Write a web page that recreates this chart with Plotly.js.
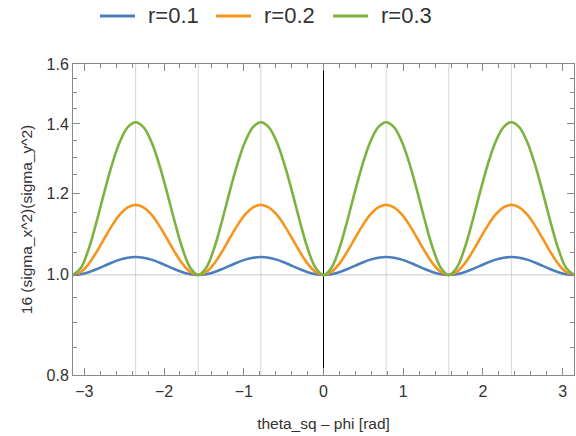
<!DOCTYPE html>
<html>
<head>
<meta charset="utf-8">
<script src="https://cdn.plot.ly/plotly-3.0.1.min.js"></script>
<style>html,body{margin:0;padding:0;background:#fff}#chart{width:576px;height:436px}</style>
</head>
<body>
<div id="chart"></div>
<script>
var seriesNames = ['r=0.1', 'r=0.2', 'r=0.3'];
var seriesColors = ['#4A7FBE', '#F7941D', '#7DB23F'];

var xVals = [
 -3.1416,-3.0434,-2.9452,-2.8471,-2.7489,-2.6507,-2.5525,-2.4544,
 -2.3562,-2.2580,-2.1598,-2.0617,-1.9635,-1.8653,-1.7671,-1.6690,
 -1.5708,-1.4726,-1.3744,-1.2763,-1.1781,-1.0799,-0.9817,-0.8836,
 -0.7854,-0.6872,-0.5890,-0.4909,-0.3927,-0.2945,-0.1963,-0.0982,
 0.0000,0.0982,0.1963,0.2945,0.3927,0.4909,0.5890,0.6872,
 0.7854,0.8836,0.9817,1.0799,1.1781,1.2763,1.3744,1.4726,
 1.5708,1.6690,1.7671,1.8653,1.9635,2.0617,2.1598,2.2580,
 2.3562,2.4544,2.5525,2.6507,2.7489,2.8471,2.9452,3.0434,
 3.1416];

var r01 = [
 1.0000,1.0015,1.0059,1.0125,1.0203,1.0280,1.0346,1.0390,
 1.0405,1.0390,1.0346,1.0280,1.0203,1.0125,1.0059,1.0015,
 1.0000,1.0015,1.0059,1.0125,1.0203,1.0280,1.0346,1.0390,
 1.0405,1.0390,1.0346,1.0280,1.0203,1.0125,1.0059,1.0015,
 1.0000,1.0015,1.0059,1.0125,1.0203,1.0280,1.0346,1.0390,
 1.0405,1.0390,1.0346,1.0280,1.0203,1.0125,1.0059,1.0015,
 1.0000,1.0015,1.0059,1.0125,1.0203,1.0280,1.0346,1.0390,
 1.0405,1.0390,1.0346,1.0280,1.0203,1.0125,1.0059,1.0015,
 1.0000];

var r02 = [
 1.0000,1.0064,1.0247,1.0521,1.0844,1.1167,1.1441,1.1624,
 1.1688,1.1624,1.1441,1.1167,1.0844,1.0521,1.0247,1.0064,
 1.0000,1.0064,1.0247,1.0521,1.0844,1.1167,1.1441,1.1624,
 1.1688,1.1624,1.1441,1.1167,1.0844,1.0521,1.0247,1.0064,
 1.0000,1.0064,1.0247,1.0521,1.0844,1.1167,1.1441,1.1624,
 1.1688,1.1624,1.1441,1.1167,1.0844,1.0521,1.0247,1.0064,
 1.0000,1.0064,1.0247,1.0521,1.0844,1.1167,1.1441,1.1624,
 1.1688,1.1624,1.1441,1.1167,1.0844,1.0521,1.0247,1.0064,
 1.0000];

var r03 = [
 1.0000,1.0154,1.0593,1.1251,1.2027,1.2802,1.3460,1.3899,
 1.4053,1.3899,1.3460,1.2802,1.2027,1.1251,1.0593,1.0154,
 1.0000,1.0154,1.0593,1.1251,1.2027,1.2802,1.3460,1.3899,
 1.4053,1.3899,1.3460,1.2802,1.2027,1.1251,1.0593,1.0154,
 1.0000,1.0154,1.0593,1.1251,1.2027,1.2802,1.3460,1.3899,
 1.4053,1.3899,1.3460,1.2802,1.2027,1.1251,1.0593,1.0154,
 1.0000,1.0154,1.0593,1.1251,1.2027,1.2802,1.3460,1.3899,
 1.4053,1.3899,1.3460,1.2802,1.2027,1.1251,1.0593,1.0154,
 1.0000];

var yTickVals = [0.8, 1.0, 1.2, 1.4, 1.6];
var yTickText = ['0.8', '1.0', '1.2', '1.4', '1.6'];
var yMinorVals = [0.85, 0.9, 0.95, 1.05, 1.1, 1.15, 1.25, 1.3, 1.35, 1.45, 1.5, 1.55];
var gridX = [-2.3562, -1.5708, -0.7854, 0.7854, 1.5708, 2.3562];
var refY = 1.0;

var xTitle = 'theta_sq \u2013 phi [rad]';
var yTitle = '16 (sigma_x^2)(sigma_y^2)';

var ys = [r01, r02, r03];
var traces = ys.map(function (y, i) {
  return {
    x: xVals, y: y, type: 'scatter', mode: 'lines', name: seriesNames[i],
    line: {color: seriesColors[i], width: 2.6, shape: 'spline', smoothing: 1}
  };
});

var shapes = gridX.map(function (gx) {
  return {type: 'line', xref: 'x', yref: 'paper', x0: gx, x1: gx, y0: 0, y1: 1,
          line: {color: '#d6d6d6', width: 1}, layer: 'below'};
});
shapes.push({type: 'line', xref: 'paper', yref: 'y', x0: 0, x1: 1, y0: refY, y1: refY,
             line: {color: '#c8c8c8', width: 1}, layer: 'below'});

// manual legend (pixel positions converted to paper coords)
var L = 73, W = 501, B = 375, H = 311;
function px(p) { return (p - L) / W; }
function py(p) { return (B - p) / H; }
var legendLineX = [[100, 135], [216, 251], [333, 368]];
var legendTextX = [146, 262, 379];
var legendY = 16;
var annotations = [];
seriesNames.forEach(function (n, i) {
  shapes.push({type: 'line', xref: 'paper', yref: 'paper',
    x0: px(legendLineX[i][0]), x1: px(legendLineX[i][1]), y0: py(legendY), y1: py(legendY),
    line: {color: seriesColors[i], width: 3}});
  annotations.push({xref: 'paper', yref: 'paper', x: px(legendTextX[i]), y: py(legendY),
    xanchor: 'left', yanchor: 'middle', text: n, showarrow: false,
    font: {size: 22, color: '#333333'}});
});

var axisFont = {family: 'Liberation Sans, Arial, sans-serif', size: 16, color: '#333333'};

var layout = {
  width: 576, height: 436,
  margin: {l: 73, r: 2, t: 64, b: 61},
  paper_bgcolor: '#ffffff', plot_bgcolor: '#ffffff',
  font: {family: 'Liberation Sans, Arial, sans-serif', color: '#333333'},
  showlegend: false,
  xaxis: {
    range: [-Math.PI, Math.PI], dtick: 1, tick0: 0, showgrid: false,
    zeroline: true, zerolinecolor: '#000000', zerolinewidth: 1,
    showline: true, linecolor: '#888888', linewidth: 1, mirror: 'allticks',
    ticks: 'inside', ticklen: 7, tickcolor: '#888888', tickwidth: 1,
    minor: {dtick: 0.2, ticks: 'inside', ticklen: 4, tickcolor: '#888888', showgrid: false},
    tickfont: axisFont, ticklabelstandoff: 2,
    title: {text: xTitle, font: {size: 15.5, color: '#333333'}, standoff: 18}
  },
  yaxis: {
    type: 'log', range: [Math.log10(0.8), Math.log10(1.6)],
    tickmode: 'array', tickvals: yTickVals, ticktext: yTickText, showgrid: false,
    zeroline: false,
    showline: true, linecolor: '#888888', linewidth: 1, mirror: 'allticks',
    ticks: 'inside', ticklen: 7, tickcolor: '#888888', tickwidth: 1,
    minor: {tickmode: 'array', tickvals: yMinorVals, ticks: 'inside', ticklen: 4, tickcolor: '#888888', showgrid: false},
    tickfont: axisFont,
    title: {text: yTitle, font: {size: 15.5, color: '#333333'}, standoff: 10}
  },
  shapes: shapes,
  annotations: annotations
};

Plotly.newPlot('chart', traces, layout, {displayModeBar: false, staticPlot: true});
</script>
</body>
</html>
